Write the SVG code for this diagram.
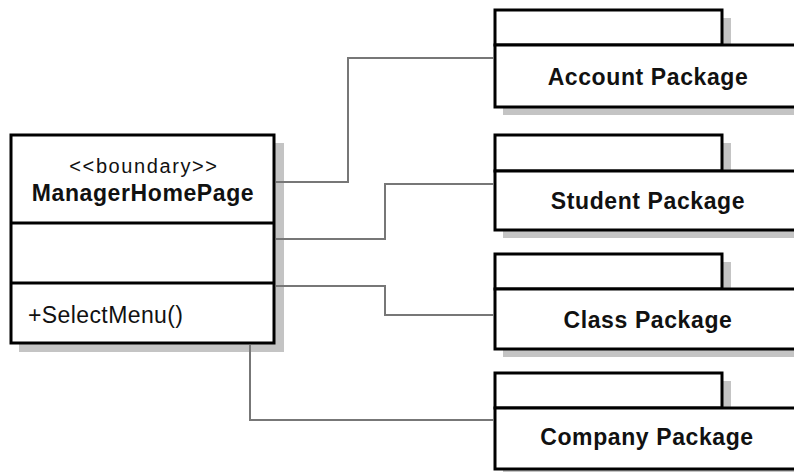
<svg xmlns="http://www.w3.org/2000/svg" width="794" height="472" viewBox="0 0 794 472">
<defs>
<style>
.shape{fill:#ffffff;stroke:#000000;stroke-width:3}
.shadow{fill:#c4c4c4;stroke:none}
.line{fill:none;stroke:#777777;stroke-width:2}
.t{font-family:"Liberation Sans",Arial,sans-serif;fill:#111111;text-anchor:middle}
.b{font-weight:bold;font-size:23px;letter-spacing:0.6px}
.n{font-size:20px;letter-spacing:1.6px}
</style>
</defs>
<rect width="794" height="472" fill="#ffffff"/>
<g id="ManagerHomePage">
<rect class="shadow" x="19" y="143" width="265" height="209"/>
<rect class="shape" x="11" y="135" width="263" height="208"/>
<line class="shape" x1="11" y1="223" x2="274" y2="223"/>
<line class="shape" x1="11" y1="283" x2="274" y2="283"/>
<text class="t n" x="144" y="173">&lt;&lt;boundary&gt;&gt;</text>
<text class="t b" x="143" y="201">ManagerHomePage</text>
<text class="t" x="28" y="323" style="font-size:23px;letter-spacing:0.4px;text-anchor:start">+SelectMenu()</text>
</g>
<g id="AccountPackage">
<rect class="shadow" x="503" y="18" width="228" height="36"/>
<rect class="shadow" x="503" y="53" width="306" height="62"/>
<rect class="shape" x="495" y="10" width="227" height="35"/>
<rect class="shape" x="495" y="45" width="306" height="62"/>
<text class="t b" x="648" y="85">Account Package</text>
</g>
<g id="StudentPackage">
<rect class="shadow" x="503" y="143" width="228" height="37"/>
<rect class="shadow" x="503" y="179" width="306" height="59"/>
<rect class="shape" x="495" y="135" width="227" height="36"/>
<rect class="shape" x="495" y="171" width="306" height="59"/>
<text class="t b" x="648" y="209">Student Package</text>
</g>
<g id="ClassPackage">
<rect class="shadow" x="503" y="262" width="228" height="36"/>
<rect class="shadow" x="503" y="297" width="306" height="60"/>
<rect class="shape" x="495" y="254" width="227" height="35"/>
<rect class="shape" x="495" y="289" width="306" height="60"/>
<text class="t b" x="648" y="328">Class Package</text>
</g>
<g id="CompanyPackage">
<rect class="shadow" x="503" y="381" width="228" height="36"/>
<rect class="shadow" x="503" y="416" width="306" height="61"/>
<rect class="shape" x="495" y="373" width="227" height="35"/>
<rect class="shape" x="495" y="408" width="306" height="61"/>
<text class="t b" x="647" y="445">Company Package</text>
</g>
<g id="connectors">
<path class="line" d="M276 182 H348 V58 H494"/>
<path class="line" d="M276 239 H385 V184 H494"/>
<path class="line" d="M276 286 H385 V315 H494"/>
<path class="line" d="M250 345 V420 H494"/>
</g>
</svg>
